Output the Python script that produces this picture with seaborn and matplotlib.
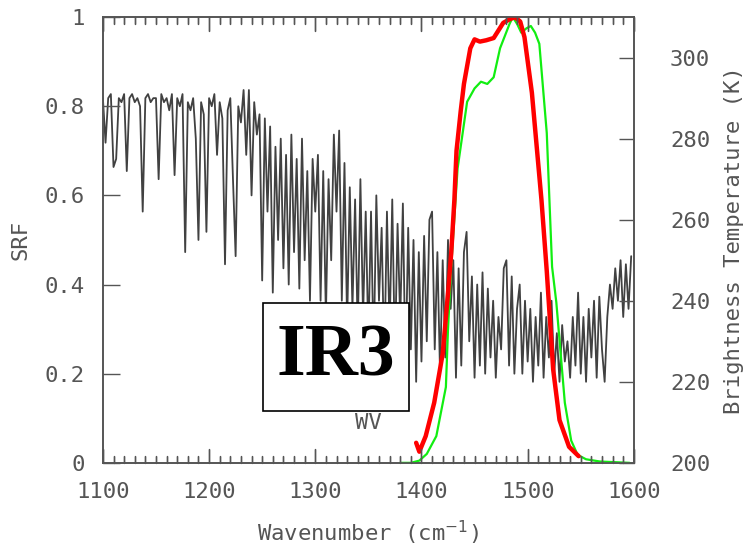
import numpy as np
import pandas as pd
import matplotlib
matplotlib.use("Agg")
import matplotlib.pyplot as plt
from matplotlib.patches import Rectangle
from matplotlib.lines import Line2D
from matplotlib.ticker import MultipleLocator
import seaborn as sns

# brightness temperature spectrum (K), one value every 2.5 cm-1 from 1100
bt_start, bt_step = 1100, 2.5
bt_values = [
    290, 279, 290, 291, 273, 275, 290, 289, 291, 272, 290, 291, 289, 290, 288, 262, 290, 291, 289, 290,
    290, 270, 291, 289, 290, 287, 291, 271, 290, 288, 291, 252, 289, 287, 290, 280, 255, 289, 286, 257,
    290, 288, 291, 276, 289, 285, 249, 287, 290, 270, 251, 288, 284, 292, 276, 292, 266, 289, 281, 286,
    245, 285, 262, 283, 242, 278, 255, 280, 248, 276, 244, 281, 252, 275, 243, 280, 250, 272, 240, 275,
    262, 276, 240, 272, 236, 270, 250, 281, 262, 282, 240, 274, 234, 268, 238, 265, 232, 270, 236, 262,
    230, 262, 226, 266, 240, 258, 224, 262, 232, 265, 226, 259, 235, 264, 222, 258, 228, 255, 220, 252,
    225, 256, 230, 260, 262, 228, 252, 222, 250, 226, 255, 238, 250, 221, 248, 224, 252, 257, 230, 246,
    221, 244, 224, 247, 222, 243, 226, 240, 221, 236, 228, 248, 250, 224, 246, 222, 238, 244, 222, 240,
    225, 238, 220, 236, 224, 242, 221, 236, 226, 240, 222, 232, 220, 234, 225, 230, 221, 236, 224, 242,
    222, 236, 220, 238, 226, 240, 221, 241, 228, 220, 236, 244, 238, 248, 240, 250, 236, 249, 238, 251,
]
bt_wn = bt_start + bt_step * np.arange(len(bt_values))

# IR3 spectral response (red)
ir3_wn = [1395, 1398, 1404, 1412, 1420, 1425, 1428, 1431, 1433, 1437, 1440, 1446, 1450, 1455,
          1461, 1468, 1477, 1483, 1488, 1493, 1497, 1504, 1513, 1518, 1524, 1530, 1539, 1548]
ir3_srf = [0.045, 0.025, 0.06, 0.135, 0.245, 0.38, 0.47, 0.59, 0.70, 0.79, 0.85, 0.93, 0.95, 0.945,
           0.948, 0.953, 0.987, 0.995, 1.0, 0.99, 0.955, 0.83, 0.59, 0.43, 0.21, 0.096, 0.036, 0.015]

# WV spectral response (green)
wv_wn = [1380, 1390, 1398, 1405, 1414, 1423, 1425, 1428, 1434, 1443, 1450, 1456, 1462, 1468,
         1474, 1483, 1486, 1490, 1494, 1499, 1503, 1507, 1511, 1518, 1523, 1527, 1535, 1541,
         1547, 1555, 1568, 1596]
wv_srf = [0.0, 0.0, 0.005, 0.02, 0.06, 0.17, 0.30, 0.44, 0.66, 0.81, 0.84, 0.855, 0.85, 0.865,
          0.93, 0.985, 1.0, 0.985, 0.965, 0.975, 0.98, 0.965, 0.94, 0.74, 0.44, 0.36, 0.135, 0.05,
          0.018, 0.008, 0.003, 0.0]

bt_df = pd.DataFrame({"wn": bt_wn, "bt": bt_values})
ir3_df = pd.DataFrame({"wn": ir3_wn, "srf": ir3_srf})
wv_df = pd.DataFrame({"wn": wv_wn, "srf": wv_srf})

grey = "#555555"
sns.set_style("ticks")
plt.rcParams.update({
    "font.family": ["DejaVu Sans Mono"],
    "axes.edgecolor": grey,
    "axes.linewidth": 1.2,
    "axes.labelcolor": grey,
    "axes.axisbelow": False,
    "xtick.direction": "in",
    "xtick.top": True,
    "xtick.bottom": True,
    "xtick.major.size": 10,
    "xtick.minor.size": 5,
    "xtick.major.width": 1,
    "xtick.minor.width": 1,
    "xtick.color": grey,
    "xtick.labelsize": 16,
    "xtick.major.pad": 14,
    "ytick.direction": "in",
    "ytick.color": grey,
    "ytick.labelsize": 16,
})

fig = plt.figure(figsize=(7.51, 5.51), dpi=100)
rect = [0.137, 0.160, 0.707, 0.809]

# temperature axis underneath, SRF axis on top
ax2 = fig.add_axes(rect, zorder=0)
ax = fig.add_axes(rect, zorder=1)
ax.patch.set_visible(False)

# spectrum on the temperature axis
sns.lineplot(data=bt_df, x="wn", y="bt", ax=ax2, color="#111111", lw=1.3, alpha=0.8,
             estimator=None, sort=False)
ax2.set_xlim(1100, 1600)
ax2.set_ylim(200, 310)
ax2.xaxis.set_visible(False)
ax2.yaxis.tick_right()
ax2.yaxis.set_label_position("right")
ax2.set_yticks([200, 220, 240, 260, 280, 300])
ax2.set_ylabel("Brightness Temperature (K)", fontsize=16, labelpad=10)
ax2.tick_params(axis="y", length=11, width=1, pad=26)

# SRF curves
sns.lineplot(data=wv_df, x="wn", y="srf", ax=ax, color="#11ee11", lw=1.6, estimator=None, sort=False)
sns.lineplot(data=ir3_df, x="wn", y="srf", ax=ax, color="#ff0000", lw=3.2, estimator=None, sort=False)

ax.set_xlim(1100, 1600)
ax.set_ylim(0, 1)
ax.set_xticks([1100, 1200, 1300, 1400, 1500, 1600])
ax.xaxis.set_minor_locator(MultipleLocator(10))
ax.set_yticks([0, 0.2, 0.4, 0.6, 0.8, 1])
ax.set_yticklabels(["0", "0.2", "0.4", "0.6", "0.8", "1"])
ax.tick_params(axis="y", length=12, width=1, pad=13, right=False)
ax.set_xlabel("Wavenumber (cm$^{-1}$)", fontsize=16, labelpad=12)
ax.set_ylabel("SRF", fontsize=16, labelpad=10)

ax.text(1350, 0.09, "WV", color=grey, fontsize=16, ha="center", va="center")

# IR3 label box
ax.add_patch(Rectangle((0.301, 0.117), 0.275, 0.242, transform=ax.transAxes,
                       facecolor="white", edgecolor="black", lw=1.2, zorder=5))
ax.text(0.439, 0.236, "IR3", transform=ax.transAxes, ha="center", va="center", color="black",
        fontsize=53, fontweight="bold", family="Liberation Serif", zorder=6)

# inward wavenumber tick marks on bottom and top edges, from the axis locators,
# added at figure level so they are drawn over both axes
xtrans = ax.get_xaxis_transform()
lo, hi = ax.get_xlim()
major_locs = [v for v in ax.get_xticks() if lo <= v <= hi]
minor_locs = [v for v in ax.xaxis.get_minorticklocs() if lo <= v <= hi]
for locs, size in ((major_locs, 0.031), (minor_locs, 0.016)):
    for v in locs:
        fig.add_artist(Line2D([v, v], [0, size], transform=xtrans, color=grey, lw=1, zorder=20))
        fig.add_artist(Line2D([v, v], [1 - size, 1], transform=xtrans, color=grey, lw=1, zorder=20))

fig.savefig("out.png", dpi=100)
